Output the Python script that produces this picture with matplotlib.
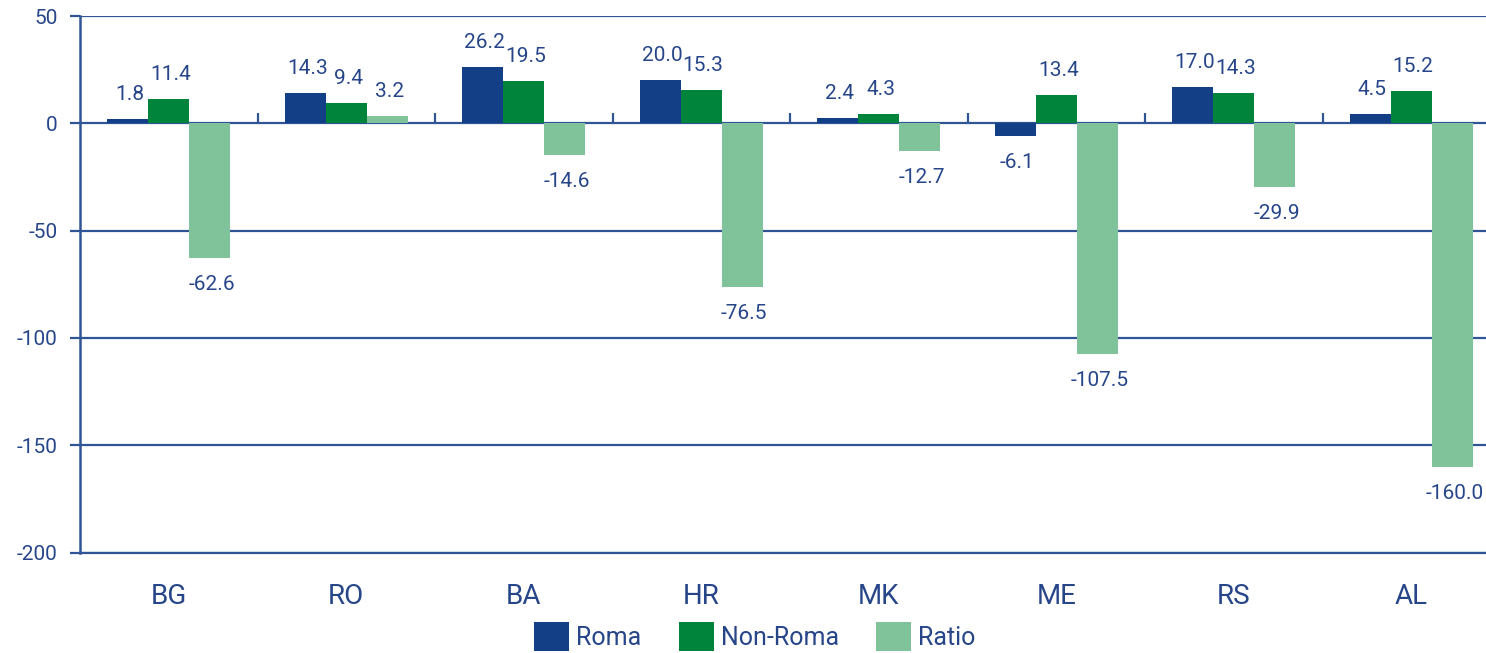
import matplotlib
matplotlib.use("Agg")
import matplotlib.pyplot as plt
import numpy as np

categories = ["BG", "RO", "BA", "HR", "MK", "ME", "RS", "AL"]
roma = [1.8, 14.3, 26.2, 20.0, 2.4, -6.1, 17.0, 4.5]
non_roma = [11.4, 9.4, 19.5, 15.3, 4.3, 13.4, 14.3, 15.2]
ratio = [-62.6, 3.2, -14.6, -76.5, -12.7, -107.5, -29.9, -160.0]
series_names = ["Roma", "Non-Roma", "Ratio"]
yticks = [50, 0, -50, -100, -150, -200]

colors = ["#123F85", "#00843C", "#80C39B"]
axis_col = "#2F5597"
text_col = "#27468A"

plt.rcParams['font.family'] = ['Roboto', 'DejaVu Sans']
plt.rcParams['axes.unicode_minus'] = False

W, H = 1486, 653
fig = plt.figure(figsize=(W / 100, H / 100), dpi=100)
ax = fig.add_axes([80 / W, (H - 552.5) / H, 1420 / W, 536.5 / H])

ymin, ymax = -200, 50
ax.set_ylim(ymin, ymax)
ax.set_xlim(-0.5, len(categories) - 0.5)

x = np.arange(len(categories))
bw = 0.231
data = [roma, non_roma, ratio]
for i, (vals, col, name) in enumerate(zip(data, colors, series_names)):
    xs = x + (i - 1) * bw
    ax.bar(xs, vals, width=bw, color=col, label=name, zorder=3)
    for xi, v in zip(xs, vals):
        if v >= 0:
            ax.annotate(f"{v:.1f}", (xi, v), xytext=(2, 19), textcoords="offset pixels",
                        ha="center", va="baseline", fontsize=15, color=text_col, zorder=4)
        else:
            ax.annotate(f"{v:.1f}", (xi, v), xytext=(2, -17), textcoords="offset pixels",
                        ha="center", va="top", fontsize=15, color=text_col, zorder=4)

# grid lines
ax.set_yticks(yticks)
ax.yaxis.grid(True, color=axis_col, linewidth=1.6, zorder=1)
ax.set_axisbelow(True)
for s in ["top", "right"]:
    ax.spines[s].set_visible(False)
ax.spines["left"].set_color(axis_col)
ax.spines["left"].set_linewidth(1.8)
ax.spines["bottom"].set_color(axis_col)
ax.spines["bottom"].set_linewidth(1.6)
ax.tick_params(axis="y", direction="out", length=7.2, width=1.6, color=axis_col,
               labelcolor=text_col, labelsize=15, pad=9)
ax.set_xticks(x)
ax.set_xticklabels(categories)
ax.tick_params(axis="x", length=0, labelsize=20, labelcolor=text_col, pad=22)

# zero line with category separator ticks
zero_frac = (0 - ymin) / (ymax - ymin)
sec = ax.secondary_xaxis(zero_frac)
sec.set_xticks(x[:-1] + 0.5)
sec.set_xticklabels([])
sec.tick_params(axis="x", direction="out", length=7, width=1.6, color=axis_col)
sec.spines["bottom"].set_color(axis_col)
sec.spines["bottom"].set_linewidth(1.8)
sec.spines["top"].set_visible(False)

leg = fig.legend(loc="upper center", bbox_to_anchor=(0.508, 1 - 617 / H), ncol=3,
                 frameon=False, fontsize=18, handlelength=1.4, handleheight=1.4,
                 handletextpad=0.28, columnspacing=1.5, borderaxespad=0, borderpad=0.2)
for t in leg.get_texts():
    t.set_color(text_col)

fig.savefig("out.png", dpi=100)
